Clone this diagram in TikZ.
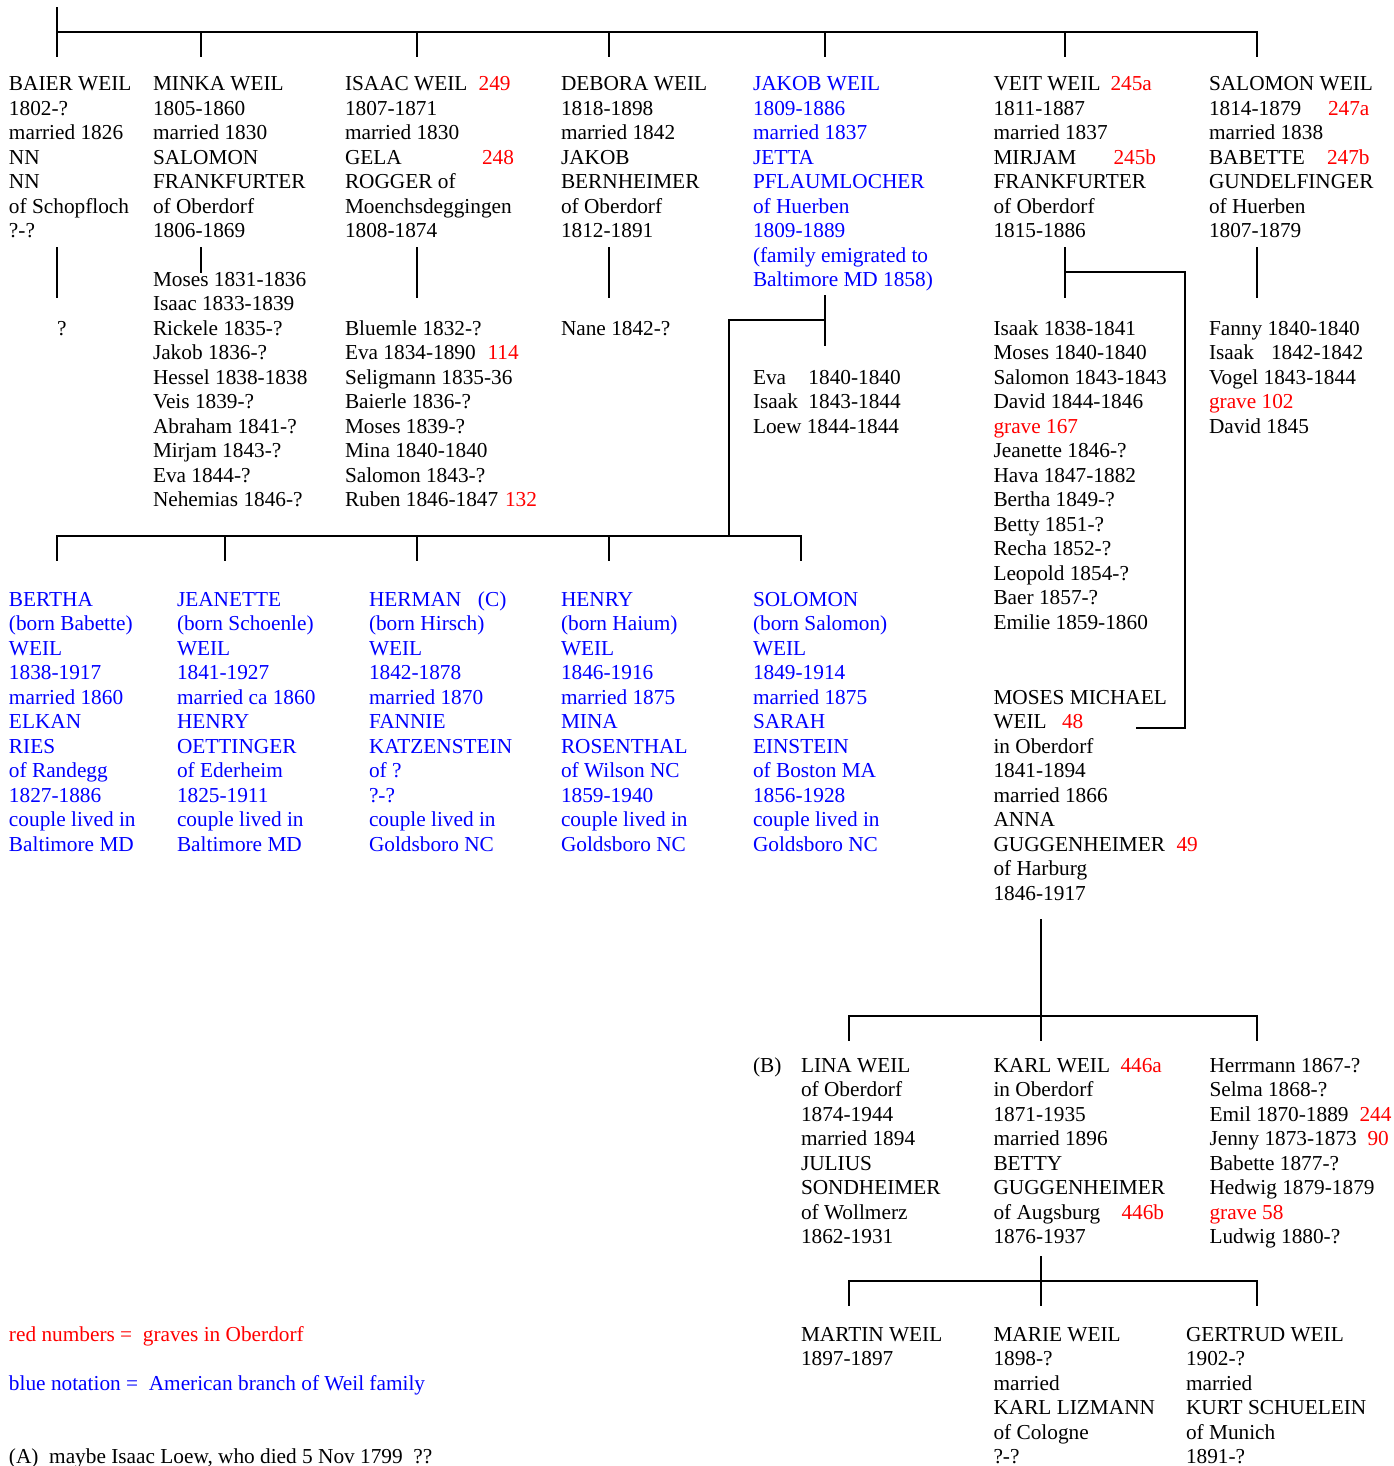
\documentclass[tikz,border=0pt]{standalone}
\usepackage{fontspec}
\setmainfont{Liberation Serif}
\newcommand{\pad}[2]{\makebox[#1pt][l]{#2}}
\newcommand{\rd}[1]{\textcolor{red}{#1}}
% base anchor of a multi-line node is the baseline of its LAST line,
% so nodes are placed at  first baseline + (lines-1)*24.5
\tikzset{
  txt/.style={anchor=base west, inner sep=0pt, outer sep=0pt, align=left,
    font=\fontsize{21.3}{24.5}\selectfont},
  blu/.style={txt, text=blue},
  redtxt/.style={txt, text=red},
  lin/.style={line width=1.6pt, line join=miter, line cap=rect},
}
\begin{document}
\begin{tikzpicture}[x=1pt,y=-1pt]
\useasboundingbox (0,0) rectangle (1393,1466);

% ---------------- generation 1 ----------------
\node[txt] (baier) at (9,{90.5+6*24.5}) {BAIER WEIL\\1802-?\\married 1826\\NN\\NN\\of Schopfloch\\?-?};
\node[txt] (minka) at (153,{90.5+6*24.5}) {MINKA WEIL\\1805-1860\\married 1830\\SALOMON\\FRANKFURTER\\of Oberdorf\\1806-1869};
\node[txt] (isaac) at (345,{90.5+6*24.5}) {\pad{133.6}{ISAAC WEIL}\rd{249}\\1807-1871\\married 1830\\\pad{137}{GELA}\rd{248}\\ROGGER of\\Moenchsdeggingen\\1808-1874};
\node[txt] (debora) at (561,{90.5+6*24.5}) {DEBORA WEIL\\1818-1898\\married 1842\\JAKOB\\BERNHEIMER\\of Oberdorf\\1812-1891};
\node[blu] (jakob) at (753,{90.5+8*24.5}) {JAKOB WEIL\\1809-1886\\married 1837\\JETTA\\PFLAUMLOCHER\\of Huerben\\1809-1889\\(family emigrated to\\Baltimore MD 1858)};
\node[txt] (veit) at (993.5,{90.5+6*24.5}) {\pad{117}{VEIT WEIL}\rd{245a}\\1811-1887\\married 1837\\\pad{120}{MIRJAM}\rd{245b}\\FRANKFURTER\\of Oberdorf\\1815-1886};
\node[txt] (salomon) at (1209,{90.5+6*24.5}) {SALOMON WEIL\\\pad{119}{1814-1879}\rd{247a}\\married 1838\\\pad{118}{BABETTE}\rd{247b}\\GUNDELFINGER\\of Huerben\\1807-1879};

% ---------------- children lists ----------------
\node[txt] (baierkids) at (57,335) {?};
\node[txt] (minkakids) at (153,{286+9*24.5}) {Moses 1831-1836\\Isaac 1833-1839\\Rickele 1835-?\\Jakob 1836-?\\Hessel 1838-1838\\Veis 1839-?\\Abraham 1841-?\\Mirjam 1843-?\\Eva 1844-?\\Nehemias 1846-?};
\node[txt] (isaackids) at (345,{335+7*24.5}) {Bluemle 1832-?\\\pad{142.5}{Eva 1834-1890}\rd{114}\\Seligmann 1835-36\\Baierle 1836-?\\Moses 1839-?\\Mina 1840-1840\\Salomon 1843-?\\\pad{160}{Ruben 1846-1847}\rd{132}};
\node[txt] (deborakids) at (561,335) {Nane 1842-?};
\node[txt] (jakobkids) at (753,{384+2*24.5}) {\pad{55.5}{Eva}1840-1840\\\pad{55.5}{Isaak}1843-1844\\Loew 1844-1844};
\node[txt] (veitkids) at (993.5,{335+12*24.5}) {Isaak 1838-1841\\Moses 1840-1840\\Salomon 1843-1843\\David 1844-1846\\\rd{grave 167}\\Jeanette 1846-?\\Hava 1847-1882\\Bertha 1849-?\\Betty 1851-?\\Recha 1852-?\\Leopold 1854-?\\Baer 1857-?\\Emilie 1859-1860};
\node[txt] (salomonkids) at (1209,{335+4*24.5}) {Fanny 1840-1840\\\pad{62}{Isaak}1842-1842\\Vogel 1843-1844\\\rd{grave 102}\\David 1845};

% ---------------- American branch ----------------
\node[blu] (bertha) at (9,{606+10*24.5}) {BERTHA\\(born Babette)\\WEIL\\1838-1917\\married 1860\\ELKAN\\RIES\\of Randegg\\1827-1886\\couple lived in\\Baltimore MD};
\node[blu] (jeanette) at (177,{606+10*24.5}) {JEANETTE\\(born Schoenle)\\WEIL\\1841-1927\\married ca 1860\\HENRY\\OETTINGER\\of Ederheim\\1825-1911\\couple lived in\\Baltimore MD};
\node[blu] (herman) at (369,{606+10*24.5}) {\pad{109}{HERMAN}(C)\\(born Hirsch)\\WEIL\\1842-1878\\married 1870\\FANNIE\\KATZENSTEIN\\of ?\\?-?\\couple lived in\\Goldsboro NC};
\node[blu] (henry) at (561,{606+10*24.5}) {HENRY\\(born Haium)\\WEIL\\1846-1916\\married 1875\\MINA\\ROSENTHAL\\of Wilson NC\\1859-1940\\couple lived in\\Goldsboro NC};
\node[blu] (solomon) at (753,{606+10*24.5}) {SOLOMON\\(born Salomon)\\WEIL\\1849-1914\\married 1875\\SARAH\\EINSTEIN\\of Boston MA\\1856-1928\\couple lived in\\Goldsboro NC};

% ---------------- Moses Michael ----------------
\node[txt] (moses) at (993.5,{704+8*24.5}) {MOSES MICHAEL\\\pad{68.5}{WEIL}\rd{48}\\in Oberdorf\\1841-1894\\married 1866\\ANNA\\\pad{183}{GUGGENHEIMER}\rd{49}\\of Harburg\\1846-1917};

% ---------------- generation of Moses' children ----------------
\node[txt] (bmark) at (753,1072) {(B)};
\node[txt] (lina) at (801,{1072+7*24.5}) {LINA WEIL\\of Oberdorf\\1874-1944\\married 1894\\JULIUS\\SONDHEIMER\\of Wollmerz\\1862-1931};
\node[txt] (karl) at (993.5,{1072+7*24.5}) {\pad{127}{KARL WEIL}\rd{446a}\\in Oberdorf\\1871-1935\\married 1896\\BETTY\\GUGGENHEIMER\\\pad{128}{of Augsburg}\rd{446b}\\1876-1937};
\node[txt] (mosessibs) at (1209.5,{1072+7*24.5}) {Herrmann 1867-?\\Selma 1868-?\\\pad{150}{Emil 1870-1889}\rd{244}\\\pad{158}{Jenny 1873-1873}\rd{90}\\Babette 1877-?\\Hedwig 1879-1879\\\rd{grave 58}\\Ludwig 1880-?};

% ---------------- Karl's children ----------------
\node[txt] (martin) at (801,{1341+24.5}) {MARTIN WEIL\\1897-1897};
\node[txt] (marie) at (993.5,{1341+5*24.5}) {MARIE WEIL\\1898-?\\married\\KARL LIZMANN\\of Cologne\\?-?};
\node[txt] (gertrud) at (1186,{1341+5*24.5}) {GERTRUD WEIL\\1902-?\\married\\KURT SCHUELEIN\\of Munich\\1891-?};

% ---------------- legend ----------------
\node[redtxt] (legred) at (9,1341) {red numbers =\ \ graves in Oberdorf};
\node[blu] (legblue) at (9,1390) {blue notation =\ \ American branch of Weil family};
\node[txt] (notea) at (9,1463) {(A)\ \ maybe Isaac Loew, who died 5 Nov 1799\ \ ??};

% ---------------- connectors ----------------
\coordinate (root) at (57,8);
\foreach \n/\x in {baier/57, minka/201, isaac/417, debora/609, jakob/825, veit/1065, salomon/1257}{
  \coordinate (\n-up) at (\x,32);
  \coordinate (\n-in) at (\x,56);
}
\draw[lin] (root) -- (baier-in);
\draw[lin] (baier-up) -- (salomon-up) -- (salomon-in);
\foreach \n in {minka, isaac, debora, jakob, veit}{ \draw[lin] (\n-up) -- (\n-in); }

% stubs below generation 1
\coordinate (baier-o1) at (57,248);   \coordinate (baier-o2) at (57,297);
\coordinate (minka-o1) at (201,248);  \coordinate (minka-o2) at (201,272);
\coordinate (isaac-o1) at (417,248);  \coordinate (isaac-o2) at (417,297);
\coordinate (debora-o1) at (609,248); \coordinate (debora-o2) at (609,297);
\coordinate (veit-o1) at (1065,248);  \coordinate (veit-o2) at (1065,297);
\coordinate (salomon-o1) at (1257,248); \coordinate (salomon-o2) at (1257,297);
\foreach \n in {baier, minka, isaac, debora, veit, salomon}{ \draw[lin] (\n-o1) -- (\n-o2); }

% Jakob's line to the American branch
\coordinate (jakob-o1) at (825,296); \coordinate (jakob-o2) at (825,345);
\coordinate (jakob-j) at (825,320); \coordinate (jakob-k) at (729,320);
\coordinate (amer-j) at (729,536);
\draw[lin] (jakob-o1) -- (jakob-o2);
\draw[lin] (jakob-j) -- (jakob-k) -- (amer-j);
\foreach \n/\x in {bertha/57, jeanette/225, herman/417, henry/609, solomon/801}{
  \coordinate (\n-up) at (\x,536);
  \coordinate (\n-in) at (\x,560);
}
\draw[lin] (bertha-in) -- (bertha-up) -- (solomon-up) -- (solomon-in);
\foreach \n in {jeanette, herman, henry}{ \draw[lin] (\n-up) -- (\n-in); }

% Veit's line to Moses Michael
\coordinate (veit-j) at (1065,272); \coordinate (veit-k) at (1185,272);
\coordinate (veit-l) at (1185,728); \coordinate (moses-in) at (1137,728);
\draw[lin] (veit-j) -- (veit-k) -- (veit-l) -- (moses-in);

% Moses Michael's children
\coordinate (moses-o1) at (1041,920); \coordinate (moses-o2) at (1041,1040);
\coordinate (lina-up) at (849,1016); \coordinate (lina-in) at (849,1040);
\coordinate (sibs-up) at (1257,1016); \coordinate (sibs-in) at (1257,1040);
\draw[lin] (moses-o1) -- (moses-o2);
\draw[lin] (lina-in) -- (lina-up) -- (sibs-up) -- (sibs-in);

% Karl's children
\coordinate (karl-o1) at (1041,1257); \coordinate (karl-o2) at (1041,1305);
\coordinate (martin-up) at (849,1281); \coordinate (martin-in) at (849,1305);
\coordinate (gertrud-up) at (1257,1281); \coordinate (gertrud-in) at (1257,1305);
\draw[lin] (karl-o1) -- (karl-o2);
\draw[lin] (martin-in) -- (martin-up) -- (gertrud-up) -- (gertrud-in);
\end{tikzpicture}
\end{document}
